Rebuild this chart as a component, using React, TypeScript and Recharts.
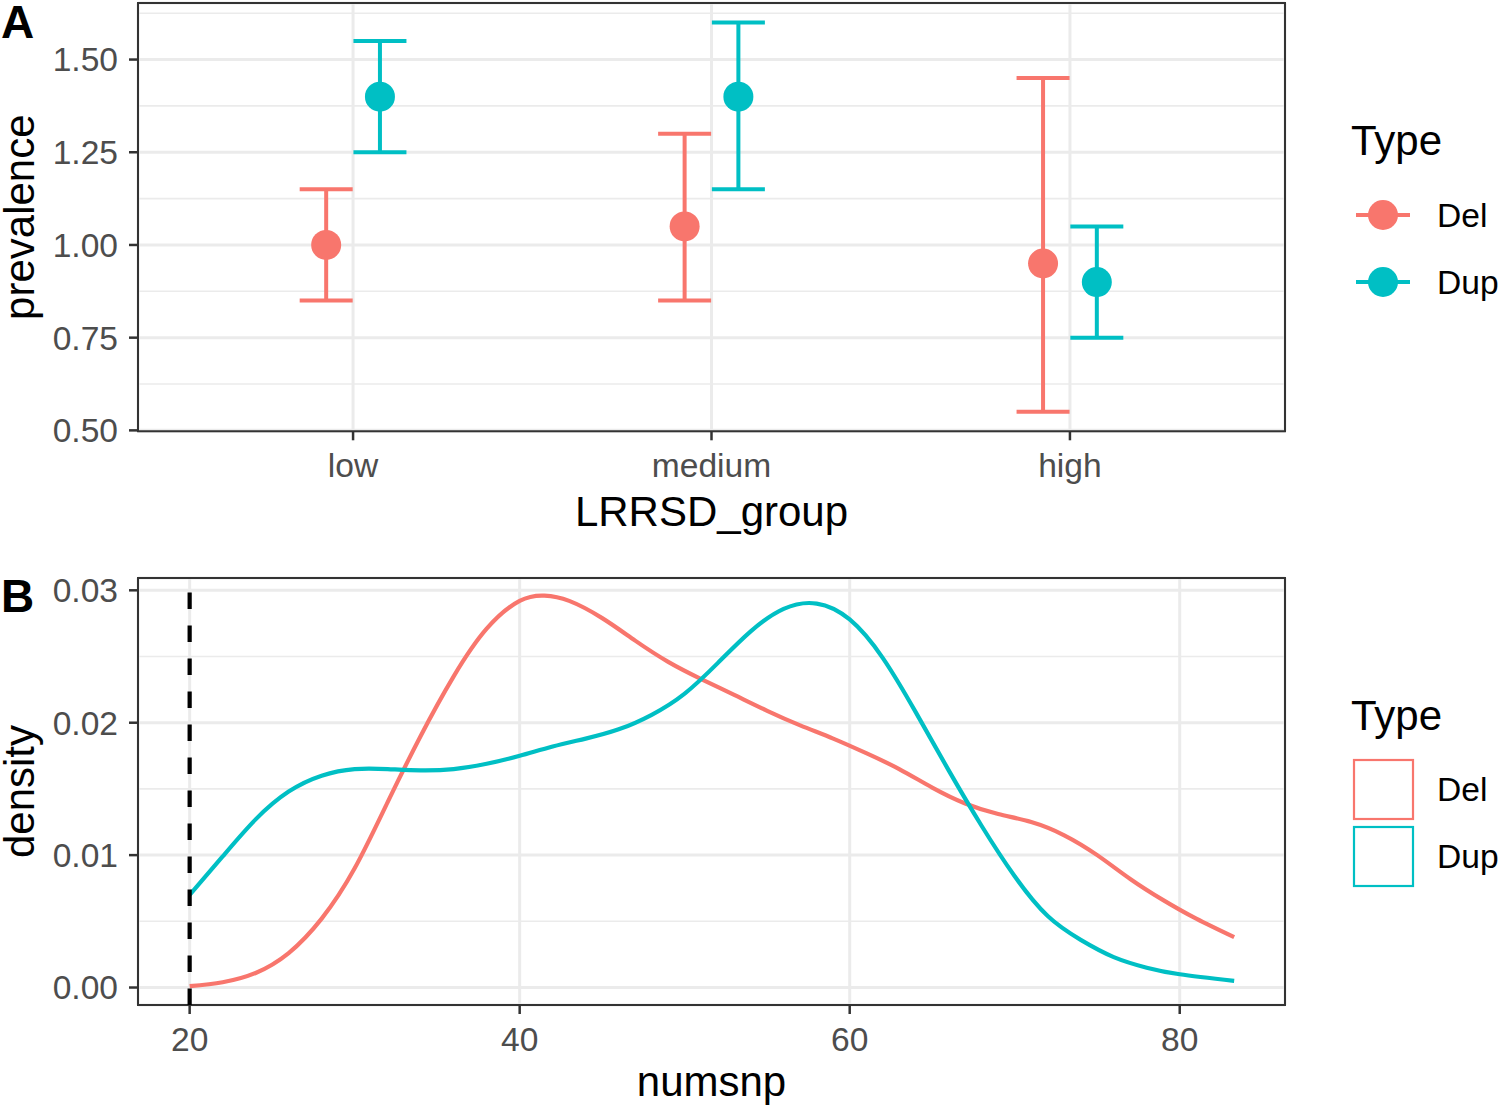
import React from "react";
import {
  ScatterChart,
  Scatter,
  ErrorBar,
  ComposedChart,
  Line,
  XAxis,
  YAxis,
  CartesianGrid,
  ReferenceLine,
  ReferenceArea,
} from "recharts";

const FONT = '"Liberation Sans", Arial, Helvetica, sans-serif';
const DEL = "#F8766D";
const DUP = "#00BFC4";
const GRID = "#EBEBEB";
const INK = "#333333";
const TICK_TEXT = "#4D4D4D";

// panel A: prevalence by LRRSD group
const groups = ["low", "medium", "high"];
const delPrev = [1.0, 1.05, 0.95];
const delLow = [0.85, 0.85, 0.55];
const delHigh = [1.15, 1.3, 1.45];
const dupPrev = [1.4, 1.4, 0.9];
const dupLow = [1.25, 1.15, 0.75];
const dupHigh = [1.55, 1.6, 1.05];
const prevTicks = [0.5, 0.75, 1.0, 1.25, 1.5];
const prevMinor = [0.625, 0.875, 1.125, 1.375, 1.625];

// panel B: numsnp density
const delNumsnp = [20, 22, 24, 26, 28, 30, 32, 34, 36, 38, 40, 41.5, 43, 45, 47, 49, 51, 53, 55, 57, 59, 61, 63, 65, 67, 69, 71, 73, 75, 77, 79, 81, 83.3];
const delDensity = [0.0001, 0.0004, 0.0011, 0.0026, 0.0052, 0.009, 0.014, 0.019, 0.0235, 0.0271, 0.0292, 0.0296, 0.0292, 0.0279, 0.0262, 0.0246, 0.0233, 0.0221, 0.0209, 0.0198, 0.0188, 0.0177, 0.0165, 0.0151, 0.0139, 0.0131, 0.0125, 0.0115, 0.01, 0.0082, 0.0066, 0.0052, 0.0038];
const dupNumsnp = [20, 22, 24, 26, 28, 30, 32, 34, 36, 38, 40, 42, 44, 46, 48, 50, 52, 54, 56, 58, 60, 62, 64, 66, 68, 70, 72, 74, 76, 78, 80, 83.3];
const dupDensity = [0.007, 0.0099, 0.0127, 0.0148, 0.016, 0.0165, 0.0165, 0.0164, 0.0165, 0.0169, 0.0175, 0.0182, 0.0188, 0.0195, 0.0206, 0.0222, 0.0245, 0.0269, 0.0286, 0.029, 0.0278, 0.0249, 0.0208, 0.0164, 0.0122, 0.0084, 0.0054, 0.0036, 0.0023, 0.0015, 0.001, 0.0005];
const numsnpTicks = [20, 40, 60, 80];
const numsnpMinor = [30, 50, 70];
const densityTicks = [0, 0.01, 0.02, 0.03];
const densityMinor = [0.005, 0.015, 0.025];
const snpCutoff = 20;

const types = [
  { name: "Del", color: DEL },
  { name: "Dup", color: DUP },
];

const dodge = 0.075;
const toRows = (prev: number[], lo: number[], hi: number[], shift: number) =>
  prev.map((p, i) => ({ x: i + 1 + shift, y: p, err: [p - lo[i], hi[i] - p] }));
const delRows = toRows(delPrev, delLow, delHigh, -dodge);
const dupRows = toRows(dupPrev, dupLow, dupHigh, dodge);

const toLine = (xs: number[], ys: number[]) => xs.map((x, i) => ({ x, y: ys[i] }));
const delLine = toLine(delNumsnp, delDensity);
const dupLine = toLine(dupNumsnp, dupDensity);

const xDomainA: [number, number] = [0.4, groups.length + 0.6];
const yDomainA: [number, number] = [0.4975, 1.6525];
const xDomainB: [number, number] = [16.87, 86.38];
const yDomainB: [number, number] = [-0.00132, 0.03093];

const tickStyle = { fill: TICK_TEXT, fontSize: 33.6, fontFamily: FONT };
const tickLine = { stroke: INK, strokeWidth: 2.5 };

const xTitle = (text: string, dy: number) => (props: any) => {
  const vb = props.viewBox || {};
  return (
    <text x={vb.x + vb.width / 2} y={vb.y + dy} textAnchor="middle" fontSize={42} fontFamily={FONT} fill="#000">
      {text}
    </text>
  );
};

const yTitle = (text: string) => (props: any) => {
  const vb = props.viewBox || {};
  const cx = vb.x + 34;
  const cy = vb.y + vb.height / 2;
  return (
    <text x={cx} y={cy} transform={`rotate(-90, ${cx}, ${cy})`} textAnchor="middle" fontSize={42} fontFamily={FONT} fill="#000">
      {text}
    </text>
  );
};

const dot = (color: string) => (props: any) => <circle cx={props.cx} cy={props.cy} r={15} fill={color} />;

function PanelA() {
  return (
    <ScatterChart width={1500} height={545} margin={{ top: 3, right: 215, bottom: 0, left: 0 }}>
      <CartesianGrid yAxisId="minor" vertical={false} stroke={GRID} strokeWidth={1.6} />
      <CartesianGrid stroke={GRID} strokeWidth={3} />
      <XAxis
        type="number"
        dataKey="x"
        domain={xDomainA}
        ticks={groups.map((_, i) => i + 1)}
        interval={0}
        tickFormatter={(v) => groups[v - 1]}
        allowDataOverflow
        height={113.7}
        axisLine={false}
        tickSize={9}
        tickLine={tickLine}
        tickMargin={13}
        tick={tickStyle}
        label={xTitle("LRRSD_group", 94.7)}
      />
      <YAxis
        type="number"
        dataKey="y"
        domain={yDomainA}
        ticks={prevTicks}
        interval={0}
        tickFormatter={(v) => v.toFixed(2)}
        allowDataOverflow
        width={138}
        axisLine={false}
        tickSize={9}
        tickLine={tickLine}
        tickMargin={11}
        tick={tickStyle}
        label={yTitle("prevalence")}
      />
      <YAxis yAxisId="minor" type="number" hide domain={yDomainA} ticks={prevMinor} interval={0} allowDataOverflow />
      <Scatter name="Del" data={delRows} fill={DEL} shape={dot(DEL)} isAnimationActive={false}>
        <ErrorBar dataKey="err" direction="y" width={26.5} stroke={DEL} strokeWidth={4} />
      </Scatter>
      <Scatter name="Dup" data={dupRows} fill={DUP} shape={dot(DUP)} isAnimationActive={false}>
        <ErrorBar dataKey="err" direction="y" width={26.5} stroke={DUP} strokeWidth={4} />
      </Scatter>
      <ReferenceArea x1={xDomainA[0]} x2={xDomainA[1]} y1={yDomainA[0]} y2={yDomainA[1]} fill="none" fillOpacity={0} stroke={INK} strokeWidth={2} ifOverflow="visible" />
    </ScatterChart>
  );
}

function PanelB() {
  return (
    <ComposedChart width={1500} height={563} margin={{ top: 33, right: 215, bottom: 0, left: 0 }}>
      <CartesianGrid xAxisId="minor" yAxisId="minor" stroke={GRID} strokeWidth={1.6} />
      <CartesianGrid stroke={GRID} strokeWidth={3} />
      <XAxis
        type="number"
        dataKey="x"
        domain={xDomainB}
        ticks={numsnpTicks}
        interval={0}
        allowDataOverflow
        height={103}
        axisLine={false}
        tickSize={9}
        tickLine={tickLine}
        tickMargin={13}
        tick={tickStyle}
        label={xTitle("numsnp", 91)}
      />
      <XAxis xAxisId="minor" type="number" hide domain={xDomainB} ticks={numsnpMinor} interval={0} allowDataOverflow />
      <YAxis
        type="number"
        domain={yDomainB}
        ticks={densityTicks}
        interval={0}
        tickFormatter={(v) => v.toFixed(2)}
        allowDataOverflow
        width={138}
        axisLine={false}
        tickSize={9}
        tickLine={tickLine}
        tickMargin={11}
        tick={tickStyle}
        label={yTitle("density")}
      />
      <YAxis yAxisId="minor" type="number" hide domain={yDomainB} ticks={densityMinor} interval={0} allowDataOverflow />
      <Line data={delLine} dataKey="y" name="Del" type="natural" stroke={DEL} strokeWidth={4.2} dot={false} activeDot={false} isAnimationActive={false} />
      <Line data={dupLine} dataKey="y" name="Dup" type="natural" stroke={DUP} strokeWidth={4.2} dot={false} activeDot={false} isAnimationActive={false} />
      <ReferenceLine x={snpCutoff} stroke="#000" strokeWidth={4.2} strokeDasharray="16.5 16.5" />
      <ReferenceArea x1={xDomainB[0]} x2={xDomainB[1]} y1={yDomainB[0]} y2={yDomainB[1]} fill="none" fillOpacity={0} stroke={INK} strokeWidth={2} ifOverflow="visible" />
    </ComposedChart>
  );
}

function Overlay() {
  return (
    <svg width={1500} height={1108} style={{ position: "absolute", left: 0, top: 0, pointerEvents: "none" }}>
      <text x={1} y={38} fontSize={46} fontWeight="bold" fontFamily={FONT}>A</text>
      <text x={1} y={612} fontSize={46} fontWeight="bold" fontFamily={FONT}>B</text>

      <text x={1351} y={155} fontSize={42} fontFamily={FONT}>Type</text>
      {types.map((t, i) => (
        <g key={t.name}>
          <line x1={1356} x2={1410} y1={215 + i * 67} y2={215 + i * 67} stroke={t.color} strokeWidth={4} />
          <circle cx={1383} cy={215 + i * 67} r={15} fill={t.color} />
          <text x={1437} y={227 + i * 67} fontSize={33.6} fontFamily={FONT}>{t.name}</text>
        </g>
      ))}

      <text x={1351} y={730} fontSize={42} fontFamily={FONT}>Type</text>
      {types.map((t, i) => (
        <g key={t.name}>
          <rect x={1354} y={760 + i * 67} width={59} height={59} fill="#fff" stroke={t.color} strokeWidth={2.2} />
          <text x={1437} y={801 + i * 67} fontSize={33.6} fontFamily={FONT}>{t.name}</text>
        </g>
      ))}
    </svg>
  );
}

export default function App() {
  return (
    <div style={{ position: "absolute", left: 0, top: 0, width: 1500, height: 1108, background: "#fff", overflow: "hidden" }}>
      <div style={{ position: "absolute", left: 0, top: 0 }}>
        <PanelA />
      </div>
      <div style={{ position: "absolute", left: 0, top: 545 }}>
        <PanelB />
      </div>
      <Overlay />
    </div>
  );
}
